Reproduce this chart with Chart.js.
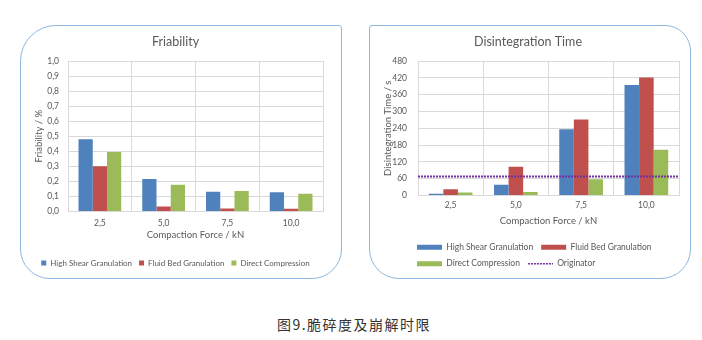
<!DOCTYPE html>
<html>
<head>
<meta charset="utf-8">
<script src="https://cdn.jsdelivr.net/npm/chart.js@4"></script>
<style>
    body { margin: 0; background: #fff; }
    #page { position: relative; width: 702px; height: 340px; overflow: hidden; }
    .panel { position: absolute; box-sizing: border-box; border: 1px solid #8db8e2; }
    #panel-fri { left: 20px; top: 25px; width: 322px; height: 254px; border-radius: 36px 3px 30px 30px; }
    #panel-dis { left: 369px; top: 25px; width: 322px; height: 254px; border-radius: 3px 26px 30px 30px; }
    .chart-box { position: absolute; width: 322px; height: 254px; }
    #box-fri { left: 20px; top: 25px; }
    #box-dis { left: 369px; top: 25px; }
    #caption {
        position: absolute; left: 0; width: 708px; top: 314px;
        text-align: center; font: 14px "Noto Sans CJK SC", sans-serif; letter-spacing: 1.5px; color: #333;
    }
</style>
</head>
<body>
<div id="page">
    <div class="panel" id="panel-fri"></div>
    <div class="panel" id="panel-dis"></div>
    <div class="chart-box" id="box-fri"><canvas id="friChart"></canvas></div>
    <div class="chart-box" id="box-dis"><canvas id="disChart"></canvas></div>
    <div id="caption">图9.脆碎度及崩解时限</div>
</div>
<script>
// Data
const forces = ['2,5', '5,0', '7,5', '10,0'];
const seriesNames = ['High Shear Granulation', 'Fluid Bed Granulation', 'Direct Compression'];

const friHighShear = [0.48, 0.216, 0.13, 0.127];
const friFluidBed = [0.30, 0.032, 0.02, 0.018];
const friDirect = [0.395, 0.177, 0.136, 0.118];

const disHighShear = [6, 38, 236, 394];
const disFluidBed = [22, 102, 271, 421];
const disDirect = [10, 12, 58, 163];
const originatorTime = 67.5;

const friTicks = { min: 0, max: 1, step: 0.1 };
const disTicks = { min: 0, max: 480, step: 60 };

const colors = ['#4f81bd', '#c0504d', '#9bbb59'];
const purple = '#7030a0';
const textColor = '#595959';
const gridColor = '#d9d9d9';
const fontFamily = 'Lato, "Open Sans", sans-serif';

// Sumbu x grafik kanan dibuat linear (indeks kategori) supaya garis Originator
// bisa ditarik dari tepi kiri sampai tepi kanan area plot
const catLeft = -0.5;
const catRight = forces.length - 0.5;

Chart.defaults.font.family = fontFamily;
Chart.defaults.color = textColor;
Chart.defaults.animation = false;

function barSet(label, data, color) {
    return {
        type: 'bar',
        label: label,
        data: data,
        backgroundColor: color,
        borderColor: color,
        borderWidth: 0,
        barPercentage: 1,
        categoryPercentage: 0.67,
        order: 1
    };
}

function indexed(values) {
    return values.map((v, i) => ({ x: i, y: v }));
}

// Legend items dibuat manual supaya garis Originator tampil putus-putus
function legendItems(chart) {
    return chart.data.datasets.map((ds, i) => {
        const isLine = ds.type === 'line';
        return {
            text: ds.label,
            fillStyle: isLine ? 'rgba(0,0,0,0)' : ds.backgroundColor,
            strokeStyle: ds.borderColor,
            lineWidth: isLine ? 1.5 : 0,
            lineDash: isLine ? ds.borderDash : [],
            pointStyle: isLine ? 'line' : 'rect',
            fontColor: textColor,
            hidden: false,
            datasetIndex: i
        };
    });
}

// Geser legend kanan supaya mulai sejajar dengan area plot
const legendToPlot = {
    id: 'legendToPlot',
    afterLayout(chart) {
        const lg = chart.legend;
        lg.left = chart.chartArea.left - lg.options.labels.padding - 1;
    }
};

function axisTitle(text, pad) {
    return { display: true, text: text, color: textColor, font: { size: 9.5 }, padding: pad };
}

new Chart(document.getElementById('friChart'), {
    type: 'bar',
    data: {
        labels: forces,
        datasets: [
            barSet(seriesNames[0], friHighShear, colors[0]),
            barSet(seriesNames[1], friFluidBed, colors[1]),
            barSet(seriesNames[2], friDirect, colors[2])
        ]
    },
    options: {
        responsive: true,
        maintainAspectRatio: false,
        layout: { padding: { left: 8, right: 19, top: 0, bottom: 2 } },
        plugins: {
            title: {
                display: true,
                text: 'Friability',
                color: textColor,
                font: { size: 12.5, weight: 'normal' },
                padding: { top: 9, bottom: 12 }
            },
            legend: {
                position: 'bottom',
                labels: {
                    boxWidth: 5,
                    boxHeight: 5,
                    padding: 7,
                    font: { size: 8 },
                    generateLabels: legendItems
                }
            },
            tooltip: { enabled: false }
        },
        scales: {
            x: {
                grid: { color: gridColor, drawTicks: false },
                border: { color: gridColor },
                ticks: { padding: 7, font: { size: 8.5 } },
                title: axisTitle('Compaction Force / kN', { top: -6, bottom: 11 })
            },
            y: {
                min: friTicks.min,
                max: friTicks.max,
                afterFit: s => { s.width = 40; },
                grid: { color: gridColor, drawTicks: false },
                border: { color: gridColor },
                ticks: {
                    stepSize: friTicks.step,
                    autoSkip: false,
                    padding: 9,
                    font: { size: 8.5 },
                    callback: v => v.toFixed(1).replace('.', ',')
                },
                title: axisTitle('Friability / %', { top: 5, bottom: 2 })
            }
        }
    }
});

new Chart(document.getElementById('disChart'), {
    type: 'bar',
    data: {
        datasets: [
            barSet(seriesNames[0], indexed(disHighShear), colors[0]),
            barSet(seriesNames[1], indexed(disFluidBed), colors[1]),
            barSet(seriesNames[2], indexed(disDirect), colors[2]),
            {
                type: 'line',
                label: 'Originator',
                data: [{ x: catLeft, y: originatorTime }, { x: catRight, y: originatorTime }],
                borderColor: purple,
                borderWidth: 2,
                borderDash: [2, 1],
                pointRadius: 0,
                fill: false,
                order: 0
            }
        ]
    },
    options: {
        responsive: true,
        maintainAspectRatio: false,
        layout: { padding: { left: 8, right: 12, top: 0, bottom: 1 } },
        plugins: {
            title: {
                display: true,
                text: 'Disintegration Time',
                color: textColor,
                font: { size: 12.5, weight: 'normal' },
                padding: { top: 9, bottom: 12 }
            },
            legend: {
                position: 'bottom',
                align: 'start',
                labels: {
                    usePointStyle: true,
                    pointStyleWidth: 25,
                    boxHeight: 5,
                    padding: 8,
                    font: { size: 8.5 },
                    generateLabels: legendItems
                }
            },
            tooltip: { enabled: false }
        },
        scales: {
            x: {
                type: 'linear',
                min: catLeft,
                max: catRight,
                offset: false,
                afterBuildTicks: s => { s.ticks = forces.map((_, i) => ({ value: i })); },
                grid: { color: gridColor, drawTicks: false, offset: true },
                border: { color: gridColor },
                ticks: { padding: 5, font: { size: 8.5 }, callback: v => forces[v] },
                title: axisTitle('Compaction Force / kN', { top: 0, bottom: 8 })
            },
            y: {
                min: disTicks.min,
                max: disTicks.max,
                afterFit: s => { s.width = 41; },
                grid: { color: gridColor, drawTicks: false },
                border: { color: gridColor },
                ticks: { stepSize: disTicks.step, autoSkip: false, padding: 11, font: { size: 8.5 } },
                title: axisTitle('Disintegration Time / s', { top: 5, bottom: 2 })
            }
        }
    },
    plugins: [legendToPlot]
});
</script>
</body>
</html>
